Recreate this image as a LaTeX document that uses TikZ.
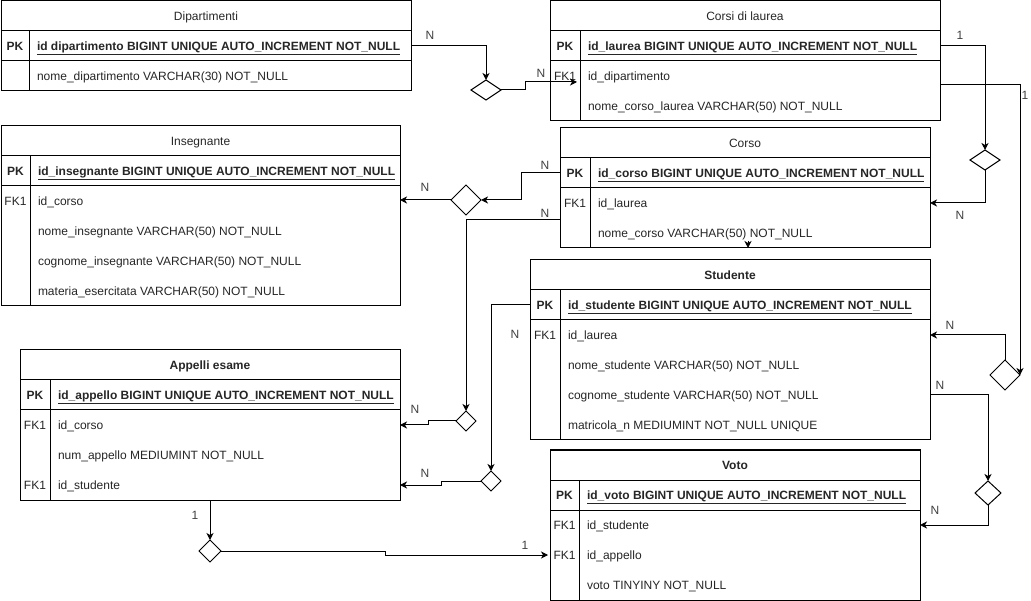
\documentclass[tikz,border=0pt]{standalone}
\usepackage{fontspec}
\setmainfont{Liberation Sans}
\usetikzlibrary{shapes.geometric,arrows.meta,calc}
\newcommand\ertable[7]{% name, x0, y0, width, key width, rows, title
  \node[cell, minimum width=#4pt] (#1) at (#2,#3) {};
  \node[titletxt] (#1title) at ([yshift=-4.3pt]#1.center) {#7};
  \node[cell, minimum width=#5pt] (#1pkk) at (#2,#3+30) {};
  \node[cell, minimum width=#4pt-#5pt] (#1pk) at (#2+#5,#3+30) {};
  \node[cell, minimum width=#5pt, minimum height=#6*30pt] (#1kb) at (#2,#3+60) {};
  \node[cell, minimum width=#4pt-#5pt, minimum height=#6*30pt] (#1b) at (#2+#5,#3+60) {};
}
\newcommand\erpk[2]{%
  \node[keytxt, font=\fontsize{12}{14}\selectfont\bfseries] (#1pkl) at ([yshift=-4.3pt]#1pkk.center) {PK};
  \node[fieldtxt, font=\fontsize{12}{14}\selectfont\bfseries] (#1pkf) at ([xshift=8pt,yshift=-4.3pt]#1pk.west) {\underline{#2}};
}
\newcommand\errow[4]{% name, index, key, text
  \coordinate (#1r#2) at ([yshift={-15pt-(#2-1)*30pt}]#1b.north west);
  \node[fieldtxt] (#1t#2) at ([xshift=8pt,yshift=-4.3pt]#1r#2) {#4};
  \node[keytxt] (#1k#2) at ([yshift={-19.3pt-(#2-1)*30pt}]#1kb.north) {#3};
}
\begin{document}
\begin{tikzpicture}[x=1pt,y=-1pt,
  font=\fontsize{12}{14}\selectfont,
  every node/.style={inner sep=0pt, outer sep=0pt, text=black!85},
  cell/.style={draw=black, line width=1pt, anchor=north west, minimum height=30pt},
  titletxt/.style={anchor=base},
  keytxt/.style={anchor=base},
  fieldtxt/.style={anchor=base west},
  dia/.style={diamond, draw=black, line width=1pt, fill=white},
  conn/.style={draw=black, line width=1pt, -{Stealth[length=7pt,width=7pt,inset=2pt]}},
  lbl/.style={text=black!75}
]
\useasboundingbox (0,0) rectangle (1031,601);

% ---------- tables ----------
\ertable{dip}{1}{1}{410}{28}{1}{Dipartimenti}
\erpk{dip}{id dipartimento BIGINT UNIQUE AUTO\_INCREMENT NOT\_NULL}
\errow{dip}{1}{}{nome\_dipartimento VARCHAR(30) NOT\_NULL}

\ertable{cdl}{550}{1}{390}{30}{2}{Corsi di laurea}
\erpk{cdl}{id\_laurea BIGINT UNIQUE AUTO\_INCREMENT NOT\_NULL}
\errow{cdl}{1}{FK1}{id\_dipartimento}
\errow{cdl}{2}{}{nome\_corso\_laurea VARCHAR(50) NOT\_NULL}

\ertable{ins}{1}{126}{399}{29}{4}{Insegnante}
\erpk{ins}{id\_insegnante BIGINT UNIQUE AUTO\_INCREMENT NOT\_NULL}
\errow{ins}{1}{FK1}{id\_corso}
\errow{ins}{2}{}{nome\_insegnante VARCHAR(50) NOT\_NULL}
\errow{ins}{3}{}{cognome\_insegnante VARCHAR(50) NOT\_NULL}
\errow{ins}{4}{}{materia\_esercitata VARCHAR(50) NOT\_NULL}

\ertable{cor}{560}{128}{370}{30}{2}{Corso}
\erpk{cor}{id\_corso BIGINT UNIQUE AUTO\_INCREMENT NOT\_NULL}
\errow{cor}{1}{FK1}{id\_laurea}
\errow{cor}{2}{}{nome\_corso VARCHAR(50) NOT\_NULL}

\ertable{stu}{530}{260}{400}{30}{4}{\bfseries Studente}
\erpk{stu}{id\_studente BIGINT UNIQUE AUTO\_INCREMENT NOT\_NULL}
\errow{stu}{1}{FK1}{id\_laurea}
\errow{stu}{2}{}{nome\_studente VARCHAR(50) NOT\_NULL}
\errow{stu}{3}{}{cognome\_studente VARCHAR(50) NOT\_NULL}
\errow{stu}{4}{}{matricola\_n MEDIUMINT NOT\_NULL UNIQUE}

\ertable{app}{20}{350}{380}{30}{3}{\bfseries Appelli esame}
\erpk{app}{id\_appello BIGINT UNIQUE AUTO\_INCREMENT NOT\_NULL}
\errow{app}{1}{FK1}{id\_corso}
\errow{app}{2}{}{num\_appello MEDIUMINT NOT\_NULL}
\errow{app}{3}{FK1}{id\_studente}

\ertable{vot}{550}{450}{370}{29}{3}{\bfseries Voto}
\erpk{vot}{id\_voto BIGINT UNIQUE AUTO\_INCREMENT NOT\_NULL}
\errow{vot}{1}{FK1}{id\_studente}
\errow{vot}{2}{FK1}{id\_appello}
\errow{vot}{3}{}{voto TINYINY NOT\_NULL}

% ---------- diamonds ----------
\node[dia, minimum width=30pt, minimum height=20pt] (d1) at (486,90) {};
\node[dia, minimum width=30pt, minimum height=20pt] (d2) at (985,160) {};
\node[dia, minimum width=30pt, minimum height=30pt] (d3) at (1005,375) {};
\node[dia, minimum width=30pt, minimum height=30pt] (d4) at (466,200) {};
\node[dia, minimum width=20pt, minimum height=20pt] (d5) at (466,421) {};
\node[dia, minimum width=20pt, minimum height=20pt] (d6) at (491,481) {};
\node[dia, minimum width=26pt, minimum height=24pt] (d7) at (988,493) {};
\node[dia, minimum width=22pt, minimum height=22pt] (d8) at (210,551) {};

% ---------- connectors ----------
\draw[conn] (dippk.east) -| (d1.north);
\draw[conn, shorten >=3pt] (d1.east) -- (525,90) -- (525,82) -- (cdlb.west |- 0,82);

\draw[conn] (cdlpk.east) -| (d2.north);
\draw[conn] (d2.south) |- (corb.east |- corr1);

\draw[conn] (cdlb.east |- 0,85) -| (d3.east);
\draw[conn] (d3.north) |- (stub.east |- stur1);

\draw[conn] (corpkk.west) -- (521,173) |- (d4.east);
\draw[conn] (d4.west) -- (insb.east |- d4.west);

\draw[conn] (corkb.west |- 0,220) -| (d5.north);
\draw[conn] (d5.west) -- (428,421) -- (428,425) -- (appb.east |- 0,425);

\draw[conn] (stupkk.west) -| (d6.north);
\draw[conn] (d6.west) -- (441,481) -- (441,485) -- (appb.east |- 0,485);

\draw[conn] (stub.east |- stur3) -| (d7.north);
\draw[conn] (d7.south) |- (votb.east |- votr1);

\draw[conn] (appb.south -| d8.north) -- (d8.north);
\draw[conn, shorten >=2pt] (d8.east) -- (385,551) -- (385,555) -- (votkb.west |- votr2);

\coordinate (stray) at (748,241);
\draw[conn] (stray) -- (corb.south -| stray);

% ---------- labels ----------
\node[lbl] (l1) at (430,35) {N};
\node[lbl] (l2) at (541,73) {N};
\node[lbl] (l3) at (960,35) {1};
\node[lbl] (l4) at (960,215) {N};
\node[lbl] (l5) at (1025,95) {1};
\node[lbl] (l6) at (950,325) {N};
\node[lbl] (l7) at (545,165) {N};
\node[lbl] (l8) at (425,187) {N};
\node[lbl] (l9) at (545,213) {N};
\node[lbl] (l10) at (415,409) {N};
\node[lbl] (l11) at (515,334) {N};
\node[lbl] (l12) at (425,473) {N};
\node[lbl] (l13) at (940,385) {N};
\node[lbl] (l14) at (935,510) {N};
\node[lbl] (l15) at (195,515) {1};
\node[lbl] (l16) at (525,545) {1};
\end{tikzpicture}
\end{document}
